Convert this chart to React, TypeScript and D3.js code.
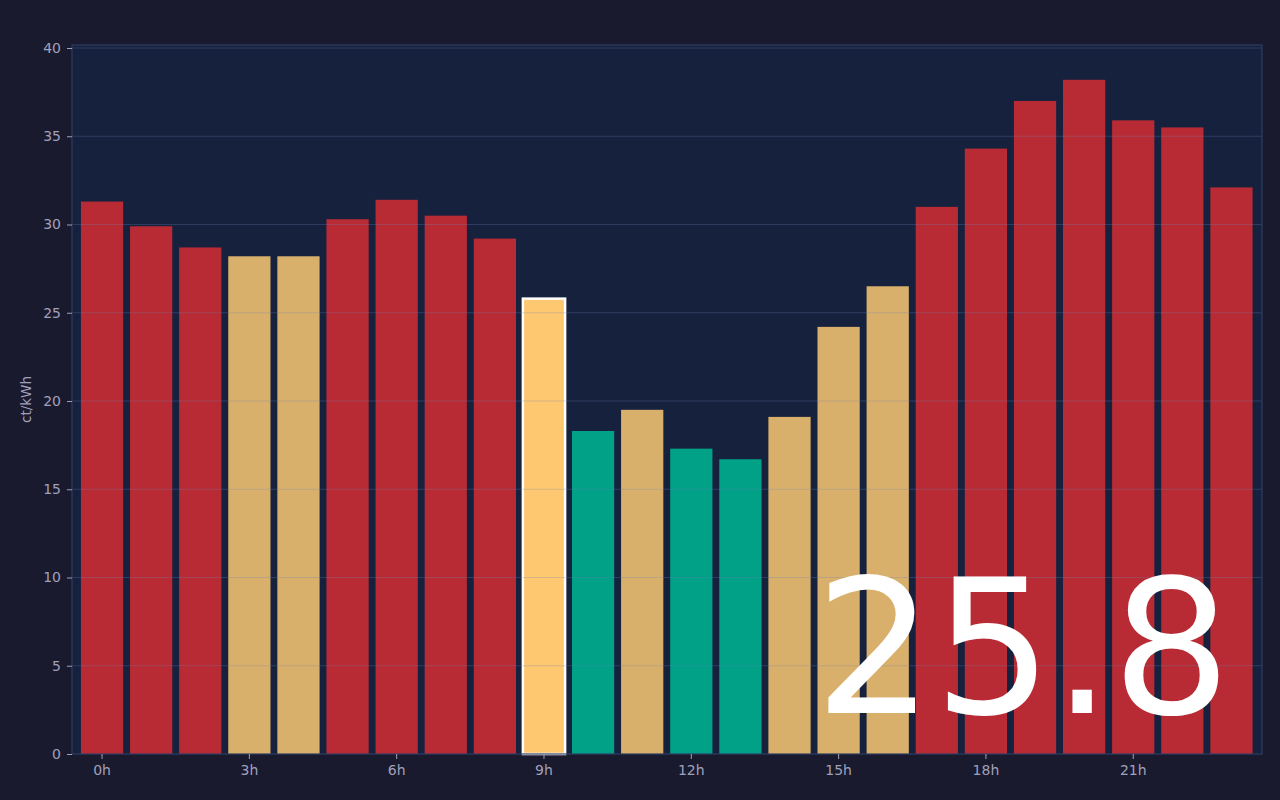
import { useEffect, useRef } from "react"
import * as d3 from "d3"

// hourly prices, ct/kWh
const hours = d3.range(24)
const prices = [
  31.3, 29.9, 28.7, 28.2, 28.2, 30.3, 31.4, 30.5, 29.2, 25.8, 18.3, 19.5,
  17.3, 16.7, 19.1, 24.2, 26.5, 31.0, 34.3, 37.0, 38.2, 35.9, 35.5, 32.1,
]
const currentHour = 9
const xTickHours = [0, 3, 6, 9, 12, 15, 18, 21]
const yTicks = [0, 5, 10, 15, 20, 25, 30, 35, 40]

const colors = {
  bg: "#1a1a2e",
  plot: "#16213e",
  border: "#2f3d63",
  grid: "rgba(110,130,180,0.28)",
  text: "#a0a0bc",
  cheap: "#00ad8e",
  mid: "#eabd6f",
  high: "#c72d34",
  current: "#fdc870",
}

function levelColor(v: number) {
  if (v < 19) return colors.cheap
  if (v < 28.5) return colors.mid
  return colors.high
}

export default function App() {
  const svgRef = useRef<SVGSVGElement>(null)

  useEffect(() => {
    if (!svgRef.current) return
    const width = 1280
    const height = 800
    const margin = { top: 45, right: 18, bottom: 46, left: 72 }
    const innerW = width - margin.left - margin.right
    const innerH = height - margin.top - margin.bottom

    const svg = d3.select(svgRef.current)
    svg.selectAll("*").remove()
    svg
      .attr("width", width)
      .attr("height", height)
      .style("font-family", "'DejaVu Sans', sans-serif")

    svg.append("rect").attr("width", width).attr("height", height).attr("fill", colors.bg)

    const g = svg.append("g").attr("transform", `translate(${margin.left},${margin.top})`)

    const x = d3
      .scaleBand<number>()
      .domain(hours)
      .range([5.5, innerW - 6])
      .paddingInner(0.14)
      .paddingOuter(0.07)

    const y = d3.scaleLinear().domain([0, 40.17]).range([innerH, 0])

    // plot background
    g.append("rect").attr("width", innerW).attr("height", innerH).attr("fill", colors.plot)

    // bars
    g.selectAll("rect.bar")
      .data(hours)
      .join("rect")
      .attr("class", "bar")
      .attr("x", (d) => x(d)!)
      .attr("width", x.bandwidth())
      .attr("y", (d) => y(prices[d]))
      .attr("height", (d) => innerH - y(prices[d]))
      .attr("fill", (d) => (d === currentHour ? colors.current : levelColor(prices[d])))
      .attr("fill-opacity", (d) => (d === currentHour ? 1 : 0.92))
      .attr("stroke", (d) => (d === currentHour ? "#ffffff" : "none"))
      .attr("stroke-width", 2.5)

    // grid lines
    g.selectAll("line.grid")
      .data(yTicks.filter((t) => t > 0))
      .join("line")
      .attr("class", "grid")
      .attr("x1", 0)
      .attr("x2", innerW)
      .attr("y1", (d) => y(d))
      .attr("y2", (d) => y(d))
      .attr("stroke", colors.grid)
      .attr("stroke-width", 1)

    // border
    g.append("rect")
      .attr("width", innerW)
      .attr("height", innerH)
      .attr("fill", "none")
      .attr("stroke", colors.border)
      .attr("stroke-width", 1.2)

    // y axis
    const yAxis = g
      .append("g")
      .call(d3.axisLeft(y).tickValues(yTicks).tickSize(5).tickPadding(6))
    yAxis.select(".domain").remove()
    yAxis.selectAll("line").attr("stroke", colors.text)
    yAxis.selectAll("text").attr("fill", colors.text).attr("font-size", 14)
    yAxis.attr("font-family", null)

    // x axis
    const xAxis = g
      .append("g")
      .attr("transform", `translate(0,${innerH})`)
      .call(
        d3
          .axisBottom(x)
          .tickValues(xTickHours)
          .tickFormat((d) => `${d}h`)
          .tickSize(5)
          .tickPadding(6)
      )
    xAxis.select(".domain").remove()
    xAxis.selectAll("line").attr("stroke", colors.text)
    xAxis.selectAll("text").attr("fill", colors.text).attr("font-size", 14)
    xAxis.attr("font-family", null)

    // y label
    svg
      .append("text")
      .attr("transform", `translate(31,${margin.top + innerH / 2}) rotate(-90)`)
      .attr("text-anchor", "middle")
      .attr("fill", colors.text)
      .attr("font-size", 13.5)
      .text("ct/kWh")

    // current price
    g.append("text")
      .attr("x", innerW - 31)
      .attr("y", y(0) - 41)
      .attr("text-anchor", "end")
      .attr("fill", "#ffffff")
      .attr("font-size", 187)
      .text(prices[currentHour].toFixed(1))
  }, [])

  return (
    <div style={{ position: "absolute", left: 0, top: 0, width: 1280, height: 800 }}>
      <svg ref={svgRef} style={{ display: "block" }} />
    </div>
  )
}
